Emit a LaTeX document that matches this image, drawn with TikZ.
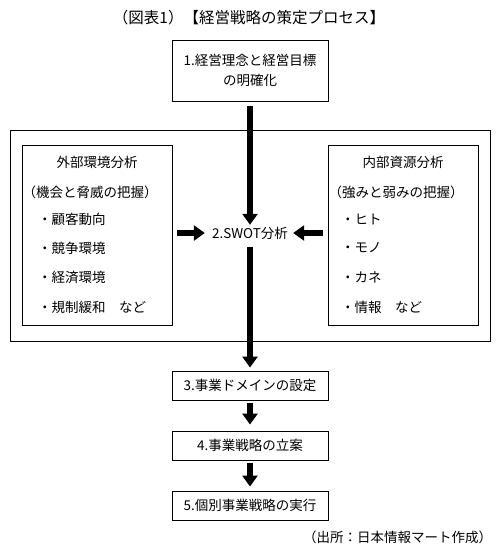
\documentclass[tikz,border=0pt]{standalone}
\usepackage{fontspec}
\setmainfont{Noto Sans CJK JP}
\usetikzlibrary{arrows.meta}
\tikzset{
  x=1pt, y=-1pt,
  every node/.style={font=\fontsize{13.5}{20}\selectfont, inner sep=0pt},
  stepbox/.style={draw, line width=0.9pt, minimum width=156pt, align=center},
  frame/.style={draw, line width=0.9pt},
  bigarrow/.style={line width=5.5pt, -{Triangle[width=15pt,length=11pt]}},
  item/.style={anchor=west},
}
\begin{document}
\begin{tikzpicture}
\useasboundingbox (0,0) rectangle (500,551);
\fill[white] (0,0) rectangle (500,551);
% title
\node[font=\fontsize{15.5}{18}\selectfont] (title) at (249,18) {（図表1）【経営戦略の策定プロセス】};
% step 1
\node[stepbox, minimum height=61pt] (b1) at (250,70.5) {1.経営理念と経営目標\\の明確化};
% outer frame and analysis boxes
\node[frame, minimum width=480pt, minimum height=211pt] (outer) at (250,235.5) {};
\node[frame, minimum width=150pt, minimum height=180pt] (lb) at (97,235) {};
\node[frame, minimum width=150pt, minimum height=180pt] (rb) at (403,235) {};
\node (lh1) at (97,162) {外部環境分析};
\node (lh2) at (90,192) {（機会と脅威の把握）};
\node[item] (l1) at (38,219) {・顧客動向};
\node[item] (l2) at (38,248) {・競争環境};
\node[item] (l3) at (38,277) {・経済環境};
\node[item] (l4) at (38,307) {・規制緩和　など};
\node (rh1) at (403,162) {内部資源分析};
\node (rh2) at (396,192) {（強みと弱みの把握）};
\node[item] (r1) at (341,219) {・ヒト};
\node[item] (r2) at (341,248) {・モノ};
\node[item] (r3) at (341,277) {・カネ};
\node[item] (r4) at (341,307) {・情報　など};
% SWOT
\node[minimum width=82pt, minimum height=16pt] (swot) at (250,233) {2.SWOT分析};
% steps 3-5
\node[stepbox, minimum height=29pt] (b3) at (250,385.5) {3.事業ドメインの設定};
\node[stepbox, minimum height=29pt] (b4) at (250,445.5) {4.事業戦略の立案};
\node[stepbox, minimum height=29pt] (b5) at (250,505.5) {5.個別事業戦略の実行};
% source
\node (src) at (397.5,537) {（出所：日本情報マート作成）};
% arrows
\draw[bigarrow, shorten <=5pt, shorten >=0pt] (b1.south) -- (swot.north);
\draw[bigarrow, shorten <=5pt, shorten >=4pt] (lb.east |- swot.west) -- (swot.west);
\draw[bigarrow, shorten <=5pt, shorten >=2pt] (rb.west |- swot.east) -- (swot.east);
\draw[bigarrow, shorten <=6pt, shorten >=3pt] (swot.south) -- (b3.north);
\draw[bigarrow, shorten <=3pt, shorten >=6pt] (b3.south) -- (b4.north);
\draw[bigarrow, shorten <=3pt, shorten >=4pt] (b4.south) -- (b5.north);
\end{tikzpicture}
\end{document}
